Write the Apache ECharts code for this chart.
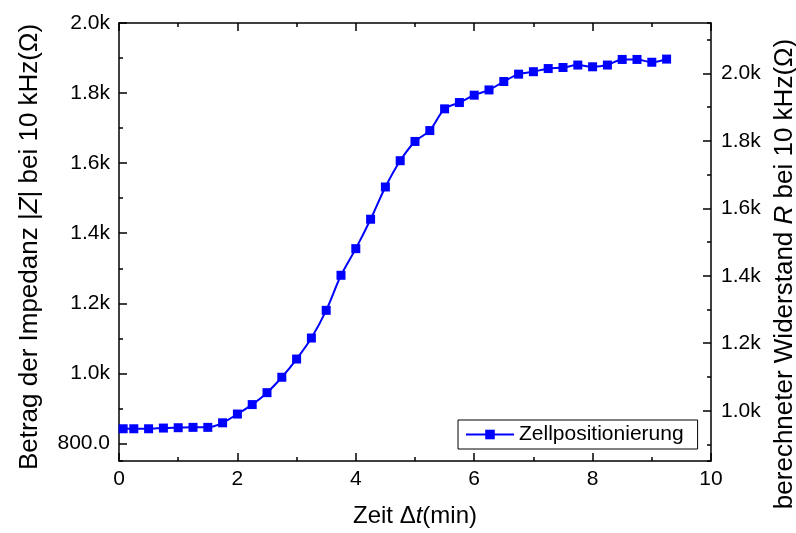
<!DOCTYPE html>
<html>
<head>
<meta charset="utf-8">
<script src="https://cdn.jsdelivr.net/npm/echarts@6/dist/echarts.min.js"></script>
<style>
  html, body { margin: 0; padding: 0; background: #fff; }
  #chart { width: 796px; height: 533px; }
</style>
</head>
<body>
<div id="chart"></div>
<script>
// Zeit in min
var timeMin = [0.07, 0.25, 0.5, 0.75, 1.0, 1.25, 1.5, 1.75, 2.0, 2.25, 2.5, 2.75, 3.0, 3.25, 3.5,
  3.75, 4.0, 4.25, 4.5, 4.75, 5.0, 5.25, 5.5, 5.75, 6.0, 6.25, 6.5, 6.75, 7.0, 7.25, 7.5,
  7.75, 8.0, 8.25, 8.5, 8.75, 9.0, 9.25];
// |Z| bei 10 kHz in Ohm
var impedance = [842, 842, 842, 844, 845, 846, 846, 859, 884, 911, 945, 989, 1041, 1101, 1180,
  1280, 1356, 1440, 1532, 1607, 1662, 1693, 1755, 1773, 1794, 1809, 1833, 1854, 1861, 1870, 1873,
  1880, 1875, 1880, 1896, 1896, 1888, 1897];
var seriesName = 'Zellpositionierung';
var leftRange = [750, 2000];
var rightRange = [851, 2149];

var FONT = '"Liberation Sans", Arial, sans-serif';
function richFor(size) {
  return {
    a: { fontSize: size, fontFamily: FONT, color: '#000' },
    i: { fontSize: size, fontFamily: FONT, color: '#000', fontStyle: 'italic' }
  };
}

function kLabel(v) {
  if (Math.round(v) % 200 !== 0) return '';
  if (v < 1000) return v.toFixed(1);
  return (v / 1000).toFixed(1) + 'k';
}

var chart = echarts.init(document.getElementById('chart'));

var lineAxis = { show: true, lineStyle: { color: '#000', width: 1.5 } };
var majorTick = { show: true, inside: true, length: 8, lineStyle: { color: '#000', width: 1.5 } };
var minorTickOpt = { show: true, inside: true, length: 4, lineStyle: { color: '#000', width: 1.5 } };
var labelStyle = { color: '#000', fontSize: 21, fontFamily: FONT };

chart.setOption({
  animation: false,
  grid: { left: 119, right: 85, top: 23, bottom: 72, containLabel: false, outerBoundsMode: 'none' },
  legend: {
    left: 458, top: 420,
    padding: [4, 14, 4, 7],
    borderColor: '#000', borderWidth: 1,
    itemWidth: 48, itemHeight: 12, itemGap: 5,
    textStyle: labelStyle,
    data: [seriesName]
  },
  xAxis: [
    {
      type: 'value', position: 'bottom', min: 0, max: 10, interval: 2,
      axisLine: lineAxis, axisTick: majorTick,
      minorTick: { show: true, splitNumber: 2, length: 4, lineStyle: { color: '#000', width: 1.5 } },
      splitLine: { show: false }, minorSplitLine: { show: false },
      axisLabel: Object.assign({ margin: 8 }, labelStyle),
      name: '{a|Zeit Δ}{i|t}{a|(min)}', nameLocation: 'middle', nameGap: 43,
      nameTextStyle: { rich: richFor(24) }
    },
    {
      type: 'value', position: 'top', min: 0, max: 10, interval: 2,
      axisLine: lineAxis, axisTick: majorTick,
      minorTick: { show: true, splitNumber: 2, length: 4, lineStyle: { color: '#000', width: 1.5 } },
      splitLine: { show: false }, axisLabel: { show: false }
    }
  ],
  yAxis: [
    {
      type: 'value', position: 'left', min: leftRange[0], max: leftRange[1],
      minInterval: 200, maxInterval: 200,
      axisLine: lineAxis, axisTick: majorTick, splitLine: { show: false },
      axisLabel: Object.assign({ margin: 9, formatter: kLabel, showMinLabel: false }, labelStyle),
      name: '{a|Betrag der Impedanz |}{i|Z}{a|| bei 10 kHz(Ω)}', nameLocation: 'middle',
      nameGap: 76, nameRotate: 90,
      nameTextStyle: { rich: richFor(26), padding: [0, 10, 0, 0] }
    },
    {
      type: 'value', position: 'left', min: leftRange[0], max: leftRange[1],
      minInterval: 100, maxInterval: 100,
      axisLine: { show: false }, axisTick: minorTickOpt, splitLine: { show: false },
      axisLabel: { show: false }
    },
    {
      type: 'value', position: 'right', min: rightRange[0], max: rightRange[1],
      minInterval: 200, maxInterval: 200,
      axisLine: lineAxis, axisTick: majorTick, splitLine: { show: false },
      axisLabel: Object.assign({ margin: 10, formatter: kLabel, showMinLabel: false, showMaxLabel: false }, labelStyle),
      name: '{a|berechneter Widerstand }{i|R}{a| bei 10 kHz(Ω)}', nameLocation: 'middle',
      nameGap: 58, nameRotate: 90,
      nameTextStyle: { rich: richFor(26), padding: [0, 64, 0, 0] }
    },
    {
      type: 'value', position: 'right', min: rightRange[0], max: rightRange[1],
      minInterval: 100, maxInterval: 100,
      axisLine: { show: false }, axisTick: minorTickOpt, splitLine: { show: false },
      axisLabel: { show: false }
    }
  ],
  series: [
    {
      name: seriesName,
      type: 'line',
      xAxisIndex: 0, yAxisIndex: 0,
      smooth: 0.3,
      symbol: 'rect', symbolSize: 9,
      clip: false,
      lineStyle: { color: '#0000ff', width: 2 },
      itemStyle: { color: '#0000ff' },
      data: timeMin.map(function (t, i) { return [t, impedance[i]]; })
    }
  ]
});

window.addEventListener('resize', function () {
  chart.resize();
});
</script>
</body>
</html>
